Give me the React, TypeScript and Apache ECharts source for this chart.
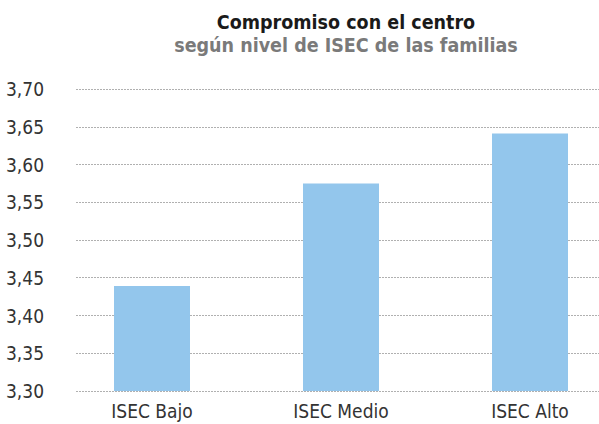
import React, { useEffect, useRef } from "react";
import * as echarts from "echarts";

const categories = ["ISEC Bajo", "ISEC Medio", "ISEC Alto"];
const values = [3.439, 3.575, 3.641];
const yMin = 3.3;
const yMax = 3.7;
const yStep = 0.05;

const FONT = "'Liberation Sans Narrow', 'DejaVu Sans Condensed', 'Roboto', sans-serif";

export default function App() {
  const ref = useRef<HTMLDivElement>(null);
  useEffect(() => {
    document.body.style.margin = "0";
    const chart = echarts.init(ref.current!, null, { renderer: "svg" });
    chart.setOption({
      animation: false,
      backgroundColor: "#ffffff",
      title: {
        text: "Compromiso con el centro",
        subtext: "según nivel de ISEC de las familias",
        left: 341,
        textAlign: "center",
        top: 7,
        itemGap: 3,
        textStyle: { fontFamily: FONT, fontWeight: "bold", fontSize: 19.5, color: "#1a1a1a" },
        subtextStyle: { fontFamily: FONT, fontWeight: "bold", fontSize: 19.5, color: "#7a7a7a" },
      },
      grid: [
        { left: 57.5, width: 567, top: 89, bottom: 33, outerBoundsMode: "none", containLabel: false },
        { left: 76, right: 0, top: 89, bottom: 33, outerBoundsMode: "none", containLabel: false },
      ],
      xAxis: [
        {
          type: "category",
          gridIndex: 0,
          data: categories,
          axisLine: { show: false },
          axisTick: { show: false },
          axisLabel: { fontFamily: FONT, fontSize: 19, color: "#333", margin: 10 },
        },
        { type: "category", gridIndex: 1, data: categories, show: false },
      ],
      yAxis: [
        {
          type: "value",
          gridIndex: 0,
          min: yMin,
          max: yMax,
          interval: yStep,
          show: false,
          splitLine: { show: false },
        },
        {
          type: "value",
          gridIndex: 1,
          min: yMin,
          max: yMax,
          interval: yStep,
          axisLine: { show: false },
          axisTick: { show: false },
          axisLabel: {
            fontFamily: FONT,
            fontSize: 19,
            color: "#333",
            margin: 32,
            formatter: (v: number) => v.toFixed(2).replace(".", ","),
          },
          splitLine: { show: true, lineStyle: { color: "#b0b0b0", type: [2, 1], width: 1 } },
        },
      ],
      series: [
        {
          type: "bar",
          xAxisIndex: 0,
          yAxisIndex: 0,
          data: values,
          barWidth: 76,
          itemStyle: { color: "#93C6EC" },
          z: 3,
        },
      ],
    });
    return () => chart.dispose();
  }, []);
  return <div ref={ref} style={{ width: 599, height: 424 }} />;
}
